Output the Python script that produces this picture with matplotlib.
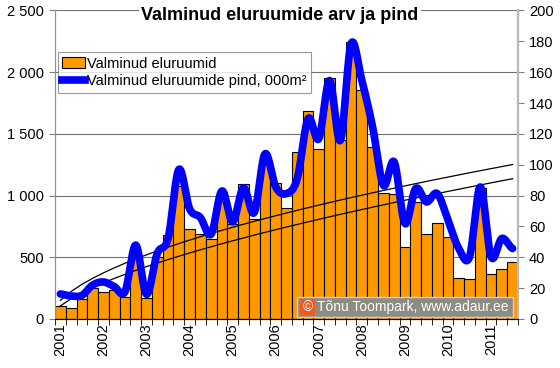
import numpy as np
import matplotlib
matplotlib.use('Agg')
import matplotlib.pyplot as plt
from matplotlib.patches import Patch, Rectangle
from matplotlib.lines import Line2D

plt.rcParams['font.family'] = ['Liberation Sans', 'DejaVu Sans']

# quarterly data 2001 Q1 .. 2011 Q3
years = ['2001', '2002', '2003', '2004', '2005', '2006', '2007', '2008', '2009', '2010', '2011']
dwellings = [105, 85, 160, 251, 216, 235, 178, 500, 170, 505, 677, 1076,
             726, 690, 645, 1025, 770, 1090, 807, 1330, 1106, 896, 1351, 1689,
             1378, 1952, 1450, 2248, 1852, 1392, 1017, 1009, 585, 949, 685, 779,
             666, 334, 326, 1060, 362, 405, 464]
area = [16.2, 14.9, 15.3, 22, 24, 21, 17.7, 47.9, 16, 42.5, 52.2, 96.9,
        71.5, 65.8, 55, 83, 63, 85, 69, 107, 85.6, 81.3, 91, 129.8,
        116.9, 154.6, 115.8, 178.4, 154.6, 124.4, 86.7, 101.8, 61.9, 84.6, 75.9, 81.3,
        64, 45.7, 40.3, 85.6, 40.3, 52.2, 45.7]
left_ticks = [0, 500, 1000, 1500, 2000, 2500]
right_ticks = list(range(0, 201, 20))


def smooth(y, k=20):
    # Catmull-Rom curve through the points (like Excel smoothed line)
    y = np.asarray(y, float)
    p = np.concatenate([[y[0]], y, [y[-1]]])
    xs, ys = [], []
    t = np.linspace(0, 1, k, endpoint=False)
    for i in range(len(y) - 1):
        p0, p1, p2, p3 = p[i], p[i + 1], p[i + 2], p[i + 3]
        v = 0.5 * (2 * p1 + (-p0 + p2) * t + (2 * p0 - 5 * p1 + 4 * p2 - p3) * t ** 2
                   + (-p0 + 3 * p1 - 3 * p2 + p3) * t ** 3)
        xs.extend(i + 1 + t)
        ys.extend(v)
    xs.append(len(y))
    ys.append(y[-1])
    return np.array(xs), np.array(ys)


def power_trend(x, y):
    b, lna = np.polyfit(np.log(x), np.log(y), 1)
    return np.exp(lna) * x ** b


n = len(dwellings)
x = np.arange(1, n + 1)

fig = plt.figure(figsize=(5.6, 3.68), dpi=100)
ax = fig.add_axes([0.0982, 0.1332, 0.8268, 0.8383])
ax2 = ax.twinx()

ax.bar(x, dwellings, width=1.0, color='#FF9900', edgecolor='black', linewidth=0.8, zorder=2)
ax.plot(x, power_trend(x, np.array(dwellings, float)), color='black', lw=0.9, zorder=3)

ax2.plot(x, power_trend(x, np.array(area, float)), color='black', lw=0.9, zorder=3)
sx, sy = smooth(area)
ax2.plot(sx, sy, color='#0000FF', lw=5.5, solid_capstyle='round', zorder=4)

ax.set_xlim(0.5, n + 0.5)
ax.set_ylim(0, 2500)
ax2.set_ylim(0, 200)

ax.set_yticks(left_ticks)
ax.set_yticklabels([f'{v:,}'.replace(',', ' ') for v in left_ticks])
ax2.set_yticks(right_ticks)

ax.set_xticks(x[::4])
ax.set_xticklabels(years[:len(x[::4])], rotation=90)
ax.set_xticks(np.arange(0.5, n + 1), minor=True)
ax.tick_params(axis='x', which='major', length=0, labelsize=10.5, pad=3)
ax.tick_params(axis='x', which='minor', length=4, color='black', direction='out')
ax.tick_params(axis='y', length=4, color='#808080', labelsize=10.5, pad=4)
ax2.tick_params(axis='y', length=4, color='#808080', labelsize=10.5, pad=4)

ax.yaxis.grid(True, color='#707070', lw=0.8)
ax.set_axisbelow(True)

for a in (ax, ax2):
    a.spines['top'].set_visible(False)
    a.spines['left'].set_color('#909090')
    a.spines['right'].set_color('#b8b8b8')
    a.spines['right'].set_linewidth(1.5)
    a.spines['bottom'].set_color('black')

handles = [Patch(facecolor='#FF9900', edgecolor='black', linewidth=0.8),
           Line2D([0], [0], color='#0000FF', lw=5.5)]
labels = ['Valminud eluruumid', 'Valminud eluruumide pind, 000m²']
leg = ax2.legend(handles, labels, loc='upper left', bbox_to_anchor=(0.006, 0.865),
                 fontsize=10.5, frameon=True, fancybox=False, borderpad=0.3,
                 handlelength=1.6, handletextpad=0.1, labelspacing=0.25,
                 borderaxespad=0)
leg.get_frame().set_edgecolor('#808080')
leg.get_frame().set_linewidth(0.8)

fig.text(0.5, 1 - 16 / 368, 'Valminud eluruumide arv ja pind', ha='center', va='center',
         fontsize=13, fontweight='bold',
         bbox=dict(facecolor='white', edgecolor='none', pad=2))

# copyright box
fig.patches.append(Rectangle((297 / 560, 1 - 317 / 368), 216 / 560, 20 / 368,
                             transform=fig.transFigure, facecolor='#8c8c84',
                             edgecolor='#d0d0d0', lw=1, zorder=10))
fig.patches.append(Rectangle((300 / 560, 1 - 315 / 368), 15 / 560, 16 / 368,
                             transform=fig.transFigure, facecolor='#f05a1e',
                             edgecolor='none', zorder=11))
fig.text(307.5 / 560, 1 - 307 / 368, '©', ha='center', va='center', color='white',
         fontsize=10, zorder=12)
fig.text(317 / 560, 1 - 307 / 368, 'Tõnu Toompark, www.adaur.ee', ha='left', va='center',
         color='white', fontsize=10, zorder=12)

fig.savefig('out.png', dpi=100)
